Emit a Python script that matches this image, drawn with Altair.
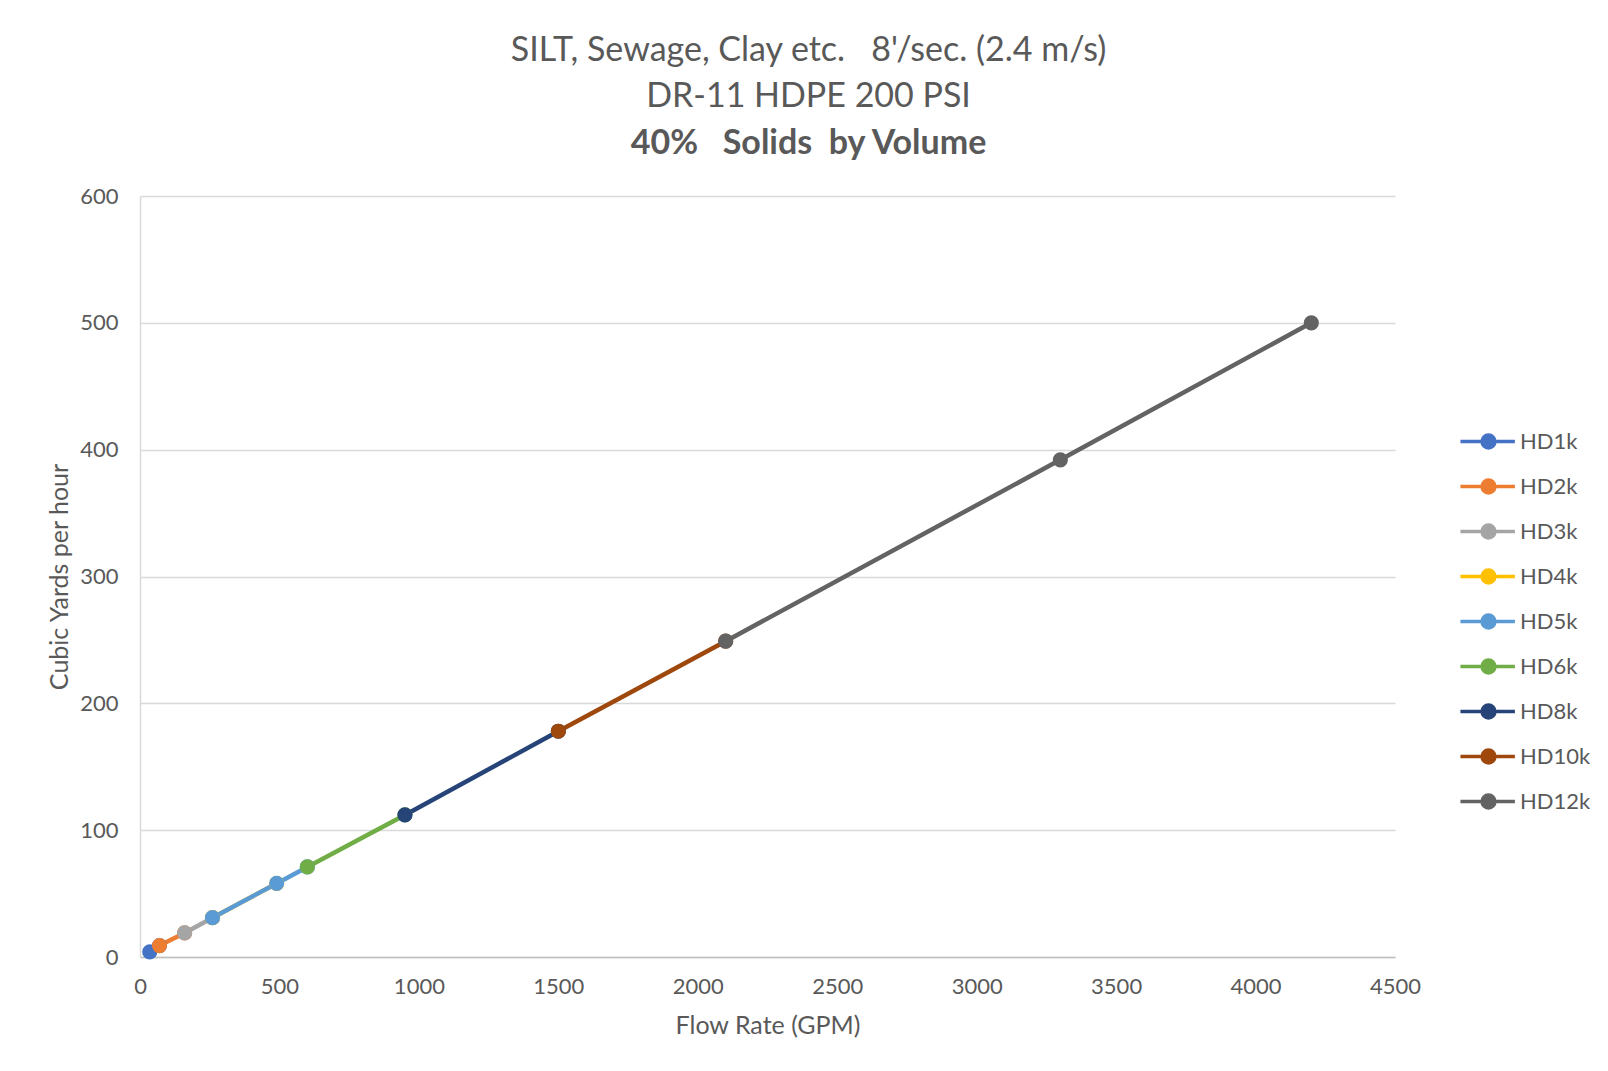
import altair as alt
import pandas as pd

series_names = ["HD1k", "HD2k", "HD3k", "HD4k", "HD5k", "HD6k", "HD8k", "HD10k", "HD12k"]
series_colors = ["#4472C4", "#ED7D31", "#A5A5A5", "#FFC000", "#5B9BD5",
                 "#70AD47", "#264478", "#9E480E", "#636363"]

hd1k_gpm = [35, 70]
hd1k_cyh = [4, 9]
hd2k_gpm = [70, 160]
hd2k_cyh = [9, 19]
hd3k_gpm = [160, 260]
hd3k_cyh = [19, 31]
hd4k_gpm = [260, 490]
hd4k_cyh = [31, 58]
hd5k_gpm = [260, 490, 600]
hd5k_cyh = [31, 58, 71]
hd6k_gpm = [600, 950]
hd6k_cyh = [71, 112]
hd8k_gpm = [950, 1500]
hd8k_cyh = [112, 178]
hd10k_gpm = [1500, 2100]
hd10k_cyh = [178, 249]
hd12k_gpm = [2100, 3300, 4200]
hd12k_cyh = [249, 392, 500]

x_ticks = [0, 500, 1000, 1500, 2000, 2500, 3000, 3500, 4000, 4500]
y_ticks = [0, 100, 200, 300, 400, 500, 600]

pairs = [
    (hd1k_gpm, hd1k_cyh), (hd2k_gpm, hd2k_cyh), (hd3k_gpm, hd3k_cyh),
    (hd4k_gpm, hd4k_cyh), (hd5k_gpm, hd5k_cyh), (hd6k_gpm, hd6k_cyh),
    (hd8k_gpm, hd8k_cyh), (hd10k_gpm, hd10k_cyh), (hd12k_gpm, hd12k_cyh),
]
rows = []
for name, (g, c) in zip(series_names, pairs):
    for gv, cv in zip(g, c):
        rows.append({"series": name, "gpm": gv, "cyh": cv})
df = pd.DataFrame(rows)

FONT = "Lato"
TXT = "#595959"

legend_path = ("M-1.7,0L1.6,0M0.39,0A0.39,0.39,0,1,1,-0.39,0"
               "A0.39,0.39,0,1,1,0.39,0Z")

color = alt.Color(
    "series:N",
    scale=alt.Scale(domain=series_names, range=series_colors),
    legend=alt.Legend(
        title=None, orient="none", legendX=1330, legendY=227,
        labelFont=FONT, labelFontSize=22, labelColor=TXT,
        symbolType=legend_path, symbolSize=1089, symbolStrokeWidth=3.5,
        labelOffset=13, rowPadding=13,
    ),
    sort=series_names,
)

x = alt.X(
    "gpm:Q",
    scale=alt.Scale(domain=[0, 4500], nice=False),
    axis=alt.Axis(
        values=x_ticks, format="d", grid=False, ticks=False, labelFlush=False,
        domainColor="#BFBFBF", domainWidth=1.5,
        labelFont=FONT, labelFontSize=22, labelColor=TXT, labelPadding=19,
        title="Flow Rate (GPM)", titleFont=FONT, titleFontSize=25,
        titleFontWeight="normal", titleColor=TXT, titlePadding=16,
    ),
)
y = alt.Y(
    "cyh:Q",
    scale=alt.Scale(domain=[0, 600], nice=False),
    axis=alt.Axis(
        values=y_ticks, format="d", grid=True, gridColor="#D9D9D9", gridWidth=1.5,
        ticks=False, labelFlush=False, domainColor="#D9D9D9", domainWidth=1.5,
        labelFont=FONT, labelFontSize=22, labelColor=TXT, labelPadding=22,
        title="Cubic Yards per hour", titleFont=FONT, titleFontSize=25,
        titleFontWeight="normal", titleColor=TXT, titlePadding=7,
    ),
)

lines = alt.Chart(df).mark_line(strokeWidth=4.5).encode(
    x=x, y=y, color=color, order="gpm:Q"
)
points = alt.Chart(df).mark_circle(size=230, opacity=1).encode(
    x=x, y=y, color=color
)

chart = alt.layer(lines, points).properties(
    width=1255,
    height=761,
    autosize=alt.AutoSizeParams(type="none"),
    padding={"left": 132, "top": 188, "right": 200, "bottom": 100},
    title=alt.Title(
        text=["SILT, Sewage, Clay etc.\u00a0\u00a0\u00a08'/sec. (2.4 m/s)",
              "DR-11 HDPE 200 PSI"],
        subtitle="40%\u00a0\u00a0\u00a0Solids\u00a0\u00a0by Volume",
        font=FONT, fontSize=34, fontWeight="normal", color=TXT, lineHeight=46,
        subtitleFont=FONT, subtitleFontSize=34, subtitleFontWeight="bold",
        subtitleColor=TXT, subtitlePadding=13,
        anchor="middle", dx=41, offset=24,
    ),
).configure_view(stroke=None)

chart.save("out.html", embed_options={"renderer": "svg", "actions": False})
